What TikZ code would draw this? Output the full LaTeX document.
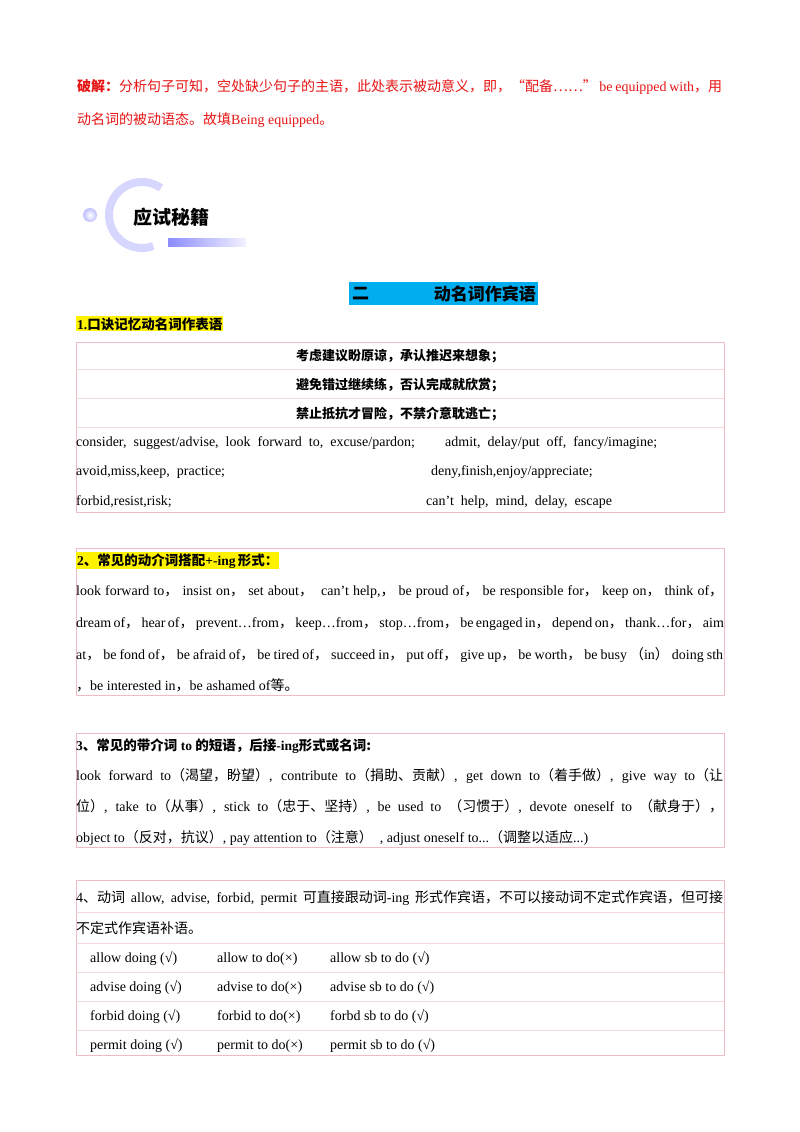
\documentclass[tikz,border=0pt]{standalone}
\usepackage{fontspec}
\setmainfont{Liberation Serif}
\newfontfamily\cjk{Noto Sans CJK SC}
\newcommand{\C}[1]{{\cjk #1}}
\newcommand{\J}[1]{\makebox[647pt][s]{#1}}
\definecolor{pinkline}{RGB}{236,190,196}
\definecolor{hred}{RGB}{230,20,20}
\begin{document}
\begin{tikzpicture}[x=1pt,y=-1pt,
  t/.style={anchor=base west,inner sep=0pt,font=\fontsize{14}{16}\selectfont},
  box/.style={draw=pinkline,line width=0.8pt},
  rule/.style={draw=pinkline!60,line width=0.5pt},
  hl/.style={fill=yellow,inner sep=1pt,anchor=base west,font=\fontsize{13.5}{15}\selectfont\bfseries}]
\useasboundingbox (0,0) rectangle (800,1132);
% intro
\node[t,text=hred] (l1) at (77,92) {\makebox[645pt][s]{\C{\textbf{破解：}分析句子可知，空处缺少句子的主语，此处表示被动意义，即，“配备……”} be equipped with\C{，用}}};
\node[t,text=hred] (l2) at (77,124) {\C{动名词的被动语态。故填}Being equipped\C{。}};
% logo
\shade[inner color=white,outer color=blue!25] (90,215) circle (7);
\draw[line width=8pt,blue!16] (142,215) ++(-55:33) arc (-55:-290:33);
\shade[left color=blue!45,right color=blue!5] (168,238) rectangle (246,246);
\node[anchor=west,inner sep=0pt,font=\fontsize{19}{21}\selectfont\cjk\bfseries] (logo) at (133,217) {应试秘籍};
% title
\fill[cyan] (349,282) rectangle (538,305);
\node[anchor=west,inner sep=0pt,font=\fontsize{17}{19}\selectfont\cjk\bfseries] (ti1) at (352,294) {二};
\node[anchor=east,inner sep=0pt,font=\fontsize{17}{19}\selectfont\cjk\bfseries] (ti2) at (536,294) {动名词作宾语};
\node[hl] (h1) at (76,329) {1.\C{口诀记忆动名词作表语}};
% box1
\draw[box] (76,342) rectangle (724,512);
\draw[rule] (76,369)--(724,369) (76,398)--(724,398) (76,427)--(724,427);
\node[font=\fontsize{13}{15}\selectfont\cjk\bfseries,inner sep=0pt] (k1) at (400,356) {考虑建议盼原谅，承认推迟来想象；};
\node[font=\fontsize{13}{15}\selectfont\cjk\bfseries,inner sep=0pt] (k2) at (400,385) {避免错过继续练，否认完成就欣赏；};
\node[font=\fontsize{13}{15}\selectfont\cjk\bfseries,inner sep=0pt] (k3) at (400,414) {禁止抵抗才冒险，不禁介意耽逃亡；};
\node[t] (a1) at (76,446) {consider,\ \ suggest/advise,\ \ look\ \ forward\ \ to,\ \ excuse/pardon;};
\node[t] (a2) at (445,446) {admit,\ \ delay/put\ \ off,\ \ fancy/imagine;};
\node[t] (b1) at (76,475) {avoid,miss,keep,\ \ practice;};
\node[t] (b2) at (431,475) {deny,finish,enjoy/appreciate;};
\node[t] (c1) at (76,505) {forbid,resist,risk;};
\node[t] (c2) at (426,505) {can’t\ \ help,\ \ mind,\ \ delay,\ \ escape};
% box2
\draw[box] (76,548) rectangle (724,695);
\node[hl] (h2) at (76,565) {2\C{、常见的动介词搭配}+-ing\,\C{形式：}};
\node[t] (p1) at (76,595) {\J{look forward to\C{，} insist on\C{，} set about\C{，}\ \ can't help,\C{，} be proud of\C{，} be responsible for\C{，} keep on\C{，} think of\C{，}}};
\node[t] (p2) at (76,627) {\J{dream of\C{，} hear of\C{，} prevent…from\C{，} keep…from\C{，} stop…from\C{，} be engaged in\C{，} depend on\C{，} thank…for\C{，} aim}};
\node[t] (p3) at (76,659) {\J{at\C{，} be fond of\C{，} be afraid of\C{，} be tired of\C{，} succeed in\C{，} put off\C{，} give up\C{，} be worth\C{，} be busy \C{（}in\C{）} doing sth}};
\node[t] (p4) at (76,690) {\C{，}be interested in\C{，}be ashamed of\C{等。}};
% box3
\draw[box] (76,733) rectangle (724,847);
\node[t,font=\fontsize{13.5}{15}\selectfont\bfseries] (h3) at (76,750) {3\C{、常见的带介词}\ to\ \C{的短语，后接}-ing\C{形式或名词:}};
\node[t] (q1) at (76,780) {\J{look forward to\C{（渴望，盼望）}, contribute to\C{（捐助、贡献）}, get down to\C{（着手做）}, give way to\C{（让}}};
\node[t] (q2) at (76,811) {\J{\C{位）}, take to\C{（从事）}, stick to\C{（忠于、坚持）}, be used to \C{（习惯于）}, devote oneself to \C{（献身于）}\C{，}}};
\node[t] (q3) at (76,842) {object to\C{（反对，抗议）}, pay attention to\C{（注意）}\ \ , adjust oneself to...\C{（调整以适应}...)};
% box4
\draw[box] (76,880) rectangle (724,1055);
\draw[rule] (76,912)--(724,912) (76,943)--(724,943) (76,972)--(724,972) (76,1001)--(724,1001) (76,1030)--(724,1030);
\node[t] (r1) at (76,902) {\J{4\C{、动词} allow, advise, forbid, permit \C{可直接跟动词}-ing \C{形式作宾语，不可以接动词不定式作宾语，但可接}}};
\node[t] (r2) at (76,933) {\C{不定式作宾语补语。}};
\foreach \y/\v [count=\i] in {962/allow,991/advise,1020/forbid,1049/permit}{
  \node[t] (ca\i) at (90,\y) {\v\ doing (√)};
  \node[t] (cb\i) at (217,\y) {\v\ to do(×)};
}
\node[t] (cc1) at (330,962) {allow sb to do (√)};
\node[t] (cc2) at (330,991) {advise sb to do (√)};
\node[t] (cc3) at (330,1020) {forbd sb to do (√)};
\node[t] (cc4) at (330,1049) {permit sb to do (√)};
\end{tikzpicture}
\end{document}
